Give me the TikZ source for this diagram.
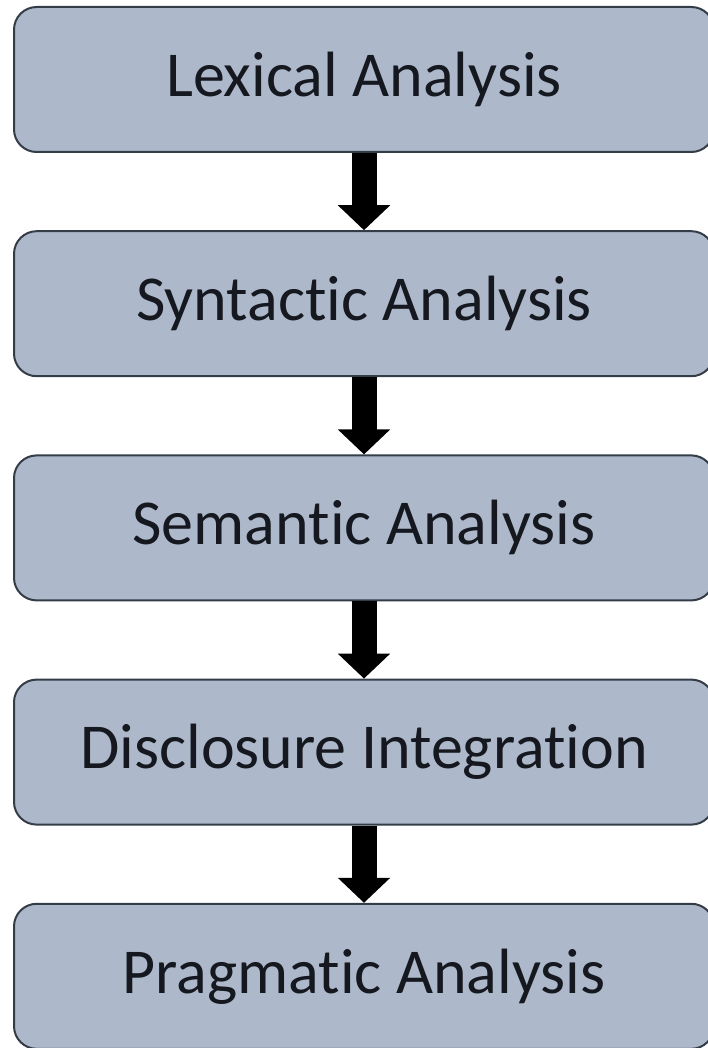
\documentclass[tikz,border=0pt]{standalone}
\usepackage{fontspec}
\setmainfont[Ligatures=NoCommon]{Carlito}
\usepackage{xcolor}
\usetikzlibrary{positioning,arrows.meta}

\definecolor{boxfill}{RGB}{173,185,202}
\definecolor{boxline}{RGB}{52,60,72}
\definecolor{textdark}{RGB}{22,24,32}

\begin{document}
\begin{tikzpicture}[x=0.75pt,y=0.75pt,yscale=-1,xscale=1,
  node distance=57.9pt,
  stage/.style={draw=boxline, line width=1.5pt, fill=boxfill, rounded corners=17pt,
    minimum width=525pt, minimum height=108.75pt, inner sep=0pt,
    font=\fontsize{48}{56}\selectfont, text=textdark},
  flow/.style={line width=18.75pt, -{Triangle[width=38.25pt,length=18.75pt]}}]
%set diagram size to the reference: 707 x 1048
\useasboundingbox (0,0) rectangle (707,1048);

% Stages
\node[stage] (lexical) at (364,79.5) {Lexical Analysis};
\node[stage, below=of lexical] (syntactic) {Syntactic Analysis};
\node[stage, below=of syntactic] (semantic) {Semantic Analysis};
\node[stage, below=of semantic] (disclosure) {Disclosure Integration};
\node[stage, below=of disclosure] (pragmatic) {Pragmatic Analysis};

% Arrows
\draw[flow] (lexical) -- (syntactic);
\draw[flow] (syntactic) -- (semantic);
\draw[flow] (semantic) -- (disclosure);
\draw[flow] (disclosure) -- (pragmatic);

\end{tikzpicture}
\end{document}
